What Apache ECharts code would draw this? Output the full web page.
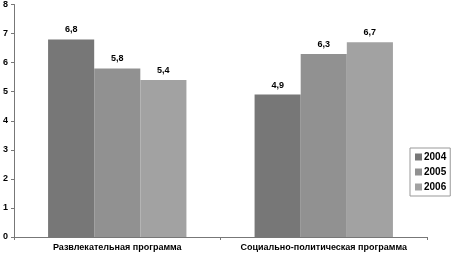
<!DOCTYPE html>
<html>
<head>
<meta charset="utf-8">
<script src="https://cdn.jsdelivr.net/npm/echarts@6/dist/echarts.min.js"></script>
<style>
  html, body { margin: 0; padding: 0; background: #fff; }
  #chart { width: 457px; height: 256px; }
</style>
</head>
<body>
<div id="chart"></div>
<script>
// categories and series values
const categories = ['Развлекательная программа', 'Социально-политическая программа']
const years = ['2004', '2005', '2006']
const values2004 = [6.8, 4.9]
const values2005 = [5.8, 6.3]
const values2006 = [5.4, 6.7]
const colors = ['#777777', '#919191', '#a2a2a2']

const chart = echarts.init(document.getElementById('chart'), null, { renderer: 'canvas' })

const font = { fontFamily: 'Liberation Sans', fontWeight: 'bold', fontSize: 9, color: '#000' }
const seriesData = [values2004, values2005, values2006]

chart.setOption({
  animation: false,
  backgroundColor: '#fff',
  grid: { left: 12, right: 30, top: 4, bottom: 19, containLabel: false },
  legend: {
    orient: 'vertical',
    left: 410, top: 148,
    itemWidth: 7, itemHeight: 7, itemGap: 5,
    padding: [4, 4, 4, 5],
    borderColor: '#999', borderWidth: 1,
    icon: 'rect',
    textStyle: { ...font, fontSize: 10, padding: [0, 0, 0, -3] },
    data: years,
  },
  xAxis: {
    type: 'category', data: categories,
    axisLine: { lineStyle: { color: '#777' } },
    axisTick: { show: true, length: 3, lineStyle: { color: '#777' } },
    axisLabel: { ...font, margin: 6, interval: 0, hideOverlap: false },
  },
  yAxis: {
    type: 'value', min: 0, max: 8, interval: 1,
    axisLine: { show: true, lineStyle: { color: '#777' } },
    axisTick: { show: true, length: 3, lineStyle: { color: '#777' } },
    axisLabel: { ...font, margin: 6 },
    splitLine: { show: false },
  },
  series: years.map((y, i) => ({
    name: y, type: 'bar', data: seriesData[i],
    barGap: '0%', barCategoryGap: '33%',
    itemStyle: { color: colors[i] },
    label: {
      show: true, position: 'top', distance: 5, ...font,
      formatter: p => String(p.value).replace('.', ','),
    },
  })),
})
</script>
</body>
</html>
